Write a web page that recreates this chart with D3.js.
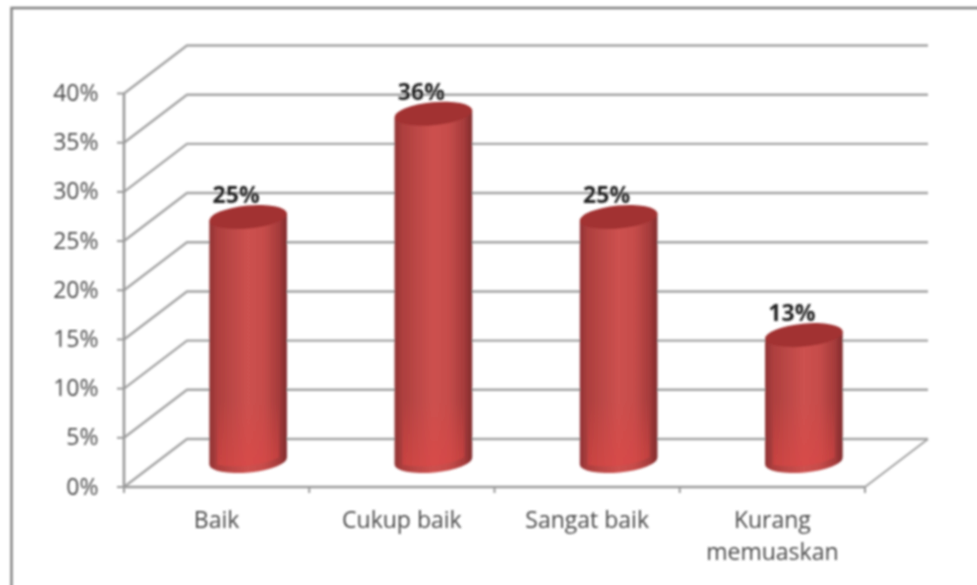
<!DOCTYPE html>
<html><head><meta charset="utf-8">
<script src="https://cdn.jsdelivr.net/npm/d3@7"></script>
<style>html,body{margin:0;padding:0;background:#fff}svg{display:block}
text{font-family:"Open Sans","Noto Sans",sans-serif}</style></head>
<body><script>
const categories = ["Baik", "Cukup baik", "Sangat baik", "Kurang memuaskan"];
const categoryLines = [["Baik"], ["Cukup baik"], ["Sangat baik"], ["Kurang", "memuaskan"]];
const values = [25, 35.5, 25, 13];
const valueLabels = ["25%", "36%", "25%", "13%"];
const yTicks = [0, 5, 10, 15, 20, 25, 30, 35, 40];

const W = 977, H = 585;
const depth = {dx: 63, dy: -48};
const x = d3.scaleBand().domain(categories).range([124, 865]).padding(0);
const y = d3.scaleLinear().domain([0, 40]).range([487, 93.5]);

const svg = d3.select("body").append("svg").attr("width", W).attr("height", H);
const defs = svg.append("defs");
defs.append("filter").attr("id", "soft").attr("filterUnits", "userSpaceOnUse")
  .attr("x", 0).attr("y", 0).attr("width", W).attr("height", H)
  .append("feGaussianBlur").attr("stdDeviation", 1);
const body = defs.append("linearGradient").attr("id", "body");
[[0, "#8f3234"], [0.1, "#ad3f3e"], [0.5, "#cd514f"], [0.7, "#c64c4a"], [0.9, "#a53b3b"], [1, "#7f2b2d"]]
  .forEach(([o, c]) => body.append("stop").attr("offset", o).attr("stop-color", c));
const low = defs.append("linearGradient").attr("id", "low").attr("x1", 0).attr("x2", 0).attr("y1", 0).attr("y2", 1);
[[0, 0], [1, 0.55]].forEach(([o, a]) => low.append("stop").attr("offset", o).attr("stop-color", "#e04644").attr("stop-opacity", a));

const g = svg.append("g").attr("filter", "url(#soft)");

// Frame
g.append("path").attr("d", `M11.5,${H + 5} V8 H${W + 5}`).attr("fill", "none").attr("stroke", "#808080").attr("stroke-width", 2.4);

const grid = "#a4a4a4";
const x0 = x.range()[0], x1 = x.range()[1];
g.selectAll(".grid").data(yTicks).join("path").attr("class", "grid")
  .attr("d", t => `M${x0},${y(t)} L${x0 + depth.dx},${y(t) + depth.dy} H${x1 + depth.dx}`)
  .attr("fill", "none").attr("stroke", grid).attr("stroke-width", 2.4);
g.append("path").attr("d", `M${x1},${y(0)} L${x1 + depth.dx},${y(0) + depth.dy}`)
  .attr("stroke", grid).attr("stroke-width", 2.2).attr("fill", "none");
const axis = "#9a9a9a";
g.append("path").attr("d", `M${x0},${y(40)} V${y(0)} H${x1}`).attr("fill", "none").attr("stroke", axis).attr("stroke-width", 2.6);
g.selectAll(".ytick").data(yTicks).join("line").attr("class", "ytick")
  .attr("x1", x0 - 7).attr("x2", x0).attr("y1", t => y(t)).attr("y2", t => y(t))
  .attr("stroke", axis).attr("stroke-width", 2);
g.selectAll(".xtick").data(categories.concat([null])).join("line").attr("class", "xtick")
  .attr("x1", (c, i) => x0 + i * x.step()).attr("x2", (c, i) => x0 + i * x.step())
  .attr("y1", y(0)).attr("y2", y(0) + 6).attr("stroke", axis).attr("stroke-width", 2);

g.selectAll(".ylab").data(yTicks).join("text").attr("class", "ylab")
  .attr("x", x0 - 25.5).attr("y", t => y(t) + 7.5).attr("text-anchor", "end")
  .attr("font-size", 23).attr("fill", "#4a4a4a").text(t => t + "%");

// Cylinders
const rx = 39, ry = 11.5, tilt = -5.5;
const cx = c => x(c) + x.bandwidth() / 2 + depth.dx / 2;
const cyOf = v => y(v) + depth.dy / 2;
const rad = tilt * Math.PI / 180;
const ex = rx * Math.cos(rad), ey = rx * Math.sin(rad);
const bar = g.selectAll(".bar").data(categories).join("g").attr("class", "bar");
bar.append("path").attr("fill", "url(#body)").attr("d", (c, i) => {
  const X = cx(c), T = cyOf(values[i]), B = cyOf(0) - 2;
  return `M${X - ex},${T - ey} L${X - ex},${B - ey} A${rx},${ry} ${tilt} 0 0 ${X + ex},${B + ey} L${X + ex},${T + ey} Z`;
});
bar.append("path").attr("fill", "url(#low)").attr("d", (c) => {
  const X = cx(c), T = cyOf(0) - 62, B = cyOf(0) - 2;
  return `M${X - ex + 8},${T} L${X - ex + 8},${B - ey} A${rx},${ry} ${tilt} 0 0 ${X + ex - 8},${B + ey} L${X + ex - 8},${T} Z`;
});
bar.append("ellipse").attr("rx", rx).attr("ry", ry).attr("fill", "#a23233")
  .attr("transform", (c, i) => `translate(${cx(c)},${cyOf(values[i])}) rotate(${tilt})`);

g.selectAll(".val").data(categories).join("text").attr("class", "val")
  .attr("x", c => cx(c) - 12).attr("y", (c, i) => cyOf(values[i]) - 14)
  .attr("text-anchor", "middle").attr("font-size", 23).attr("font-weight", 700).attr("fill", "#222")
  .text((c, i) => valueLabels[i]);

const cat = g.selectAll(".cat").data(categories).join("text").attr("class", "cat")
  .attr("text-anchor", "middle").attr("font-size", 23).attr("fill", "#4a4a4a");
cat.each(function (c, i) {
  d3.select(this).selectAll("tspan").data(categoryLines[i]).join("tspan")
    .attr("x", x(c) + x.bandwidth() / 2).attr("y", (l, k) => 528 + k * 32).text(l => l);
});
</script></body></html>
